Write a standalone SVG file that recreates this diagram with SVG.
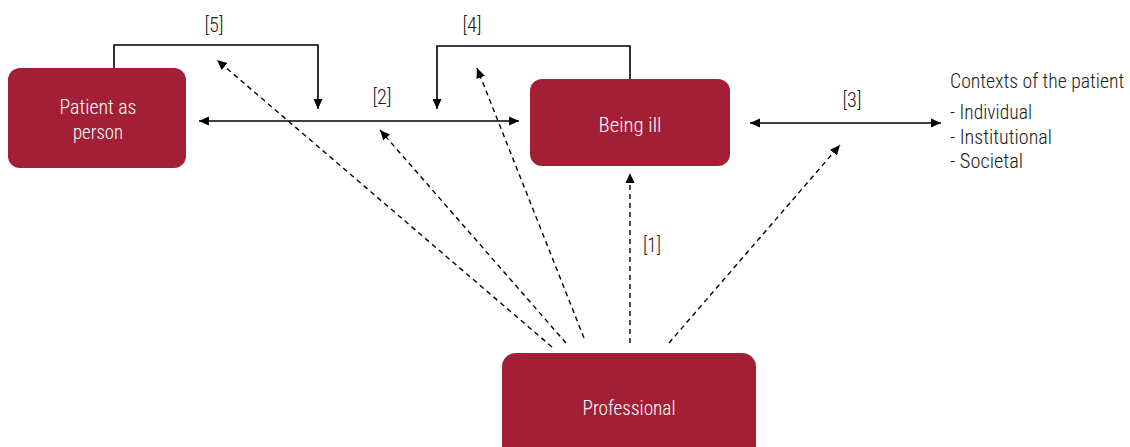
<svg xmlns="http://www.w3.org/2000/svg" width="1130" height="447" viewBox="0 0 1130 447">
  <style>
    .node { fill: #A31F36; }
    .t { font-family: "Roboto Condensed", "Liberation Sans Narrow", "DejaVu Sans Condensed", Roboto, sans-serif; font-weight: 300; font-size: 21px; }
    .w { fill: #ffffff; text-anchor: middle; }
    .k { fill: #1a1a1a; }
    .lbl { fill: #1a1a1a; text-anchor: middle; }
    .solid { fill: none; stroke: #000; stroke-width: 1.6; }
    .dash { fill: none; stroke: #000; stroke-width: 1.4; stroke-dasharray: 5 4; }
  </style>
  <defs>
    <marker id="ah" markerUnits="userSpaceOnUse" markerWidth="10" markerHeight="10" refX="10" refY="4.5" orient="auto-start-reverse" viewBox="0 0 10 9">
      <path d="M0,0 L10,4.5 L0,9 z" fill="#000"/>
    </marker>
  </defs>
  <rect width="1130" height="447" fill="#ffffff"/>

  <g id="connectors">
    <path id="c5" class="solid" d="M114,68 V45 H318 V109" marker-end="url(#ah)"/>
    <path id="c4" class="solid" d="M630,79 V46 H437 V109" marker-end="url(#ah)"/>
    <line id="c2" class="solid" x1="199" y1="121" x2="519" y2="121" marker-start="url(#ah)" marker-end="url(#ah)"/>
    <line id="c3" class="solid" x1="750" y1="123" x2="941" y2="123" marker-start="url(#ah)" marker-end="url(#ah)"/>
    <line id="c1" class="dash" x1="630" y1="343" x2="630" y2="173" marker-end="url(#ah)"/>
    <line id="d5" class="dash" x1="552" y1="347" x2="217" y2="60" marker-end="url(#ah)"/>
    <line id="d2" class="dash" x1="566" y1="343" x2="380" y2="130" marker-end="url(#ah)"/>
    <line id="d4" class="dash" x1="584" y1="338" x2="477" y2="68" marker-end="url(#ah)"/>
    <line id="d3" class="dash" x1="669" y1="343" x2="840" y2="145" marker-end="url(#ah)"/>
    <text class="t lbl" x="214" y="32" textLength="19" lengthAdjust="spacingAndGlyphs">[5]</text>
    <text class="t lbl" x="472" y="32" textLength="19" lengthAdjust="spacingAndGlyphs">[4]</text>
    <text class="t lbl" x="382" y="104" textLength="19" lengthAdjust="spacingAndGlyphs">[2]</text>
    <text class="t lbl" x="852" y="107" textLength="19" lengthAdjust="spacingAndGlyphs">[3]</text>
    <text class="t lbl" x="652" y="252" textLength="18" lengthAdjust="spacingAndGlyphs">[1]</text>
  </g>

  <g id="patient">
    <rect class="node" x="8" y="68" width="178" height="100" rx="12"/>
    <text class="t w" x="98" y="114" textLength="77" lengthAdjust="spacingAndGlyphs">Patient as</text>
    <text class="t w" x="98" y="139" textLength="50" lengthAdjust="spacingAndGlyphs">person</text>
  </g>

  <g id="being-ill">
    <rect class="node" x="530" y="79" width="200" height="87" rx="12"/>
    <text class="t w" x="630" y="132" textLength="63" lengthAdjust="spacingAndGlyphs">Being ill</text>
  </g>

  <g id="professional">
    <rect class="node" x="502" y="353" width="254" height="110" rx="14"/>
    <text class="t w" x="629" y="415" textLength="93" lengthAdjust="spacingAndGlyphs">Professional</text>
  </g>

  <g id="contexts" transform="translate(950,0) scale(0.85,1)">
    <text class="t k" x="0" y="88" textLength="205" lengthAdjust="spacingAndGlyphs">Contexts of the patient</text>
    <text class="t k" x="0" y="119" textLength="96.5" lengthAdjust="spacingAndGlyphs">- Individual</text>
    <text class="t k" x="0" y="144" textLength="120" lengthAdjust="spacingAndGlyphs">- Institutional</text>
    <text class="t k" x="0" y="168" textLength="86" lengthAdjust="spacingAndGlyphs">- Societal</text>
  </g>
</svg>
